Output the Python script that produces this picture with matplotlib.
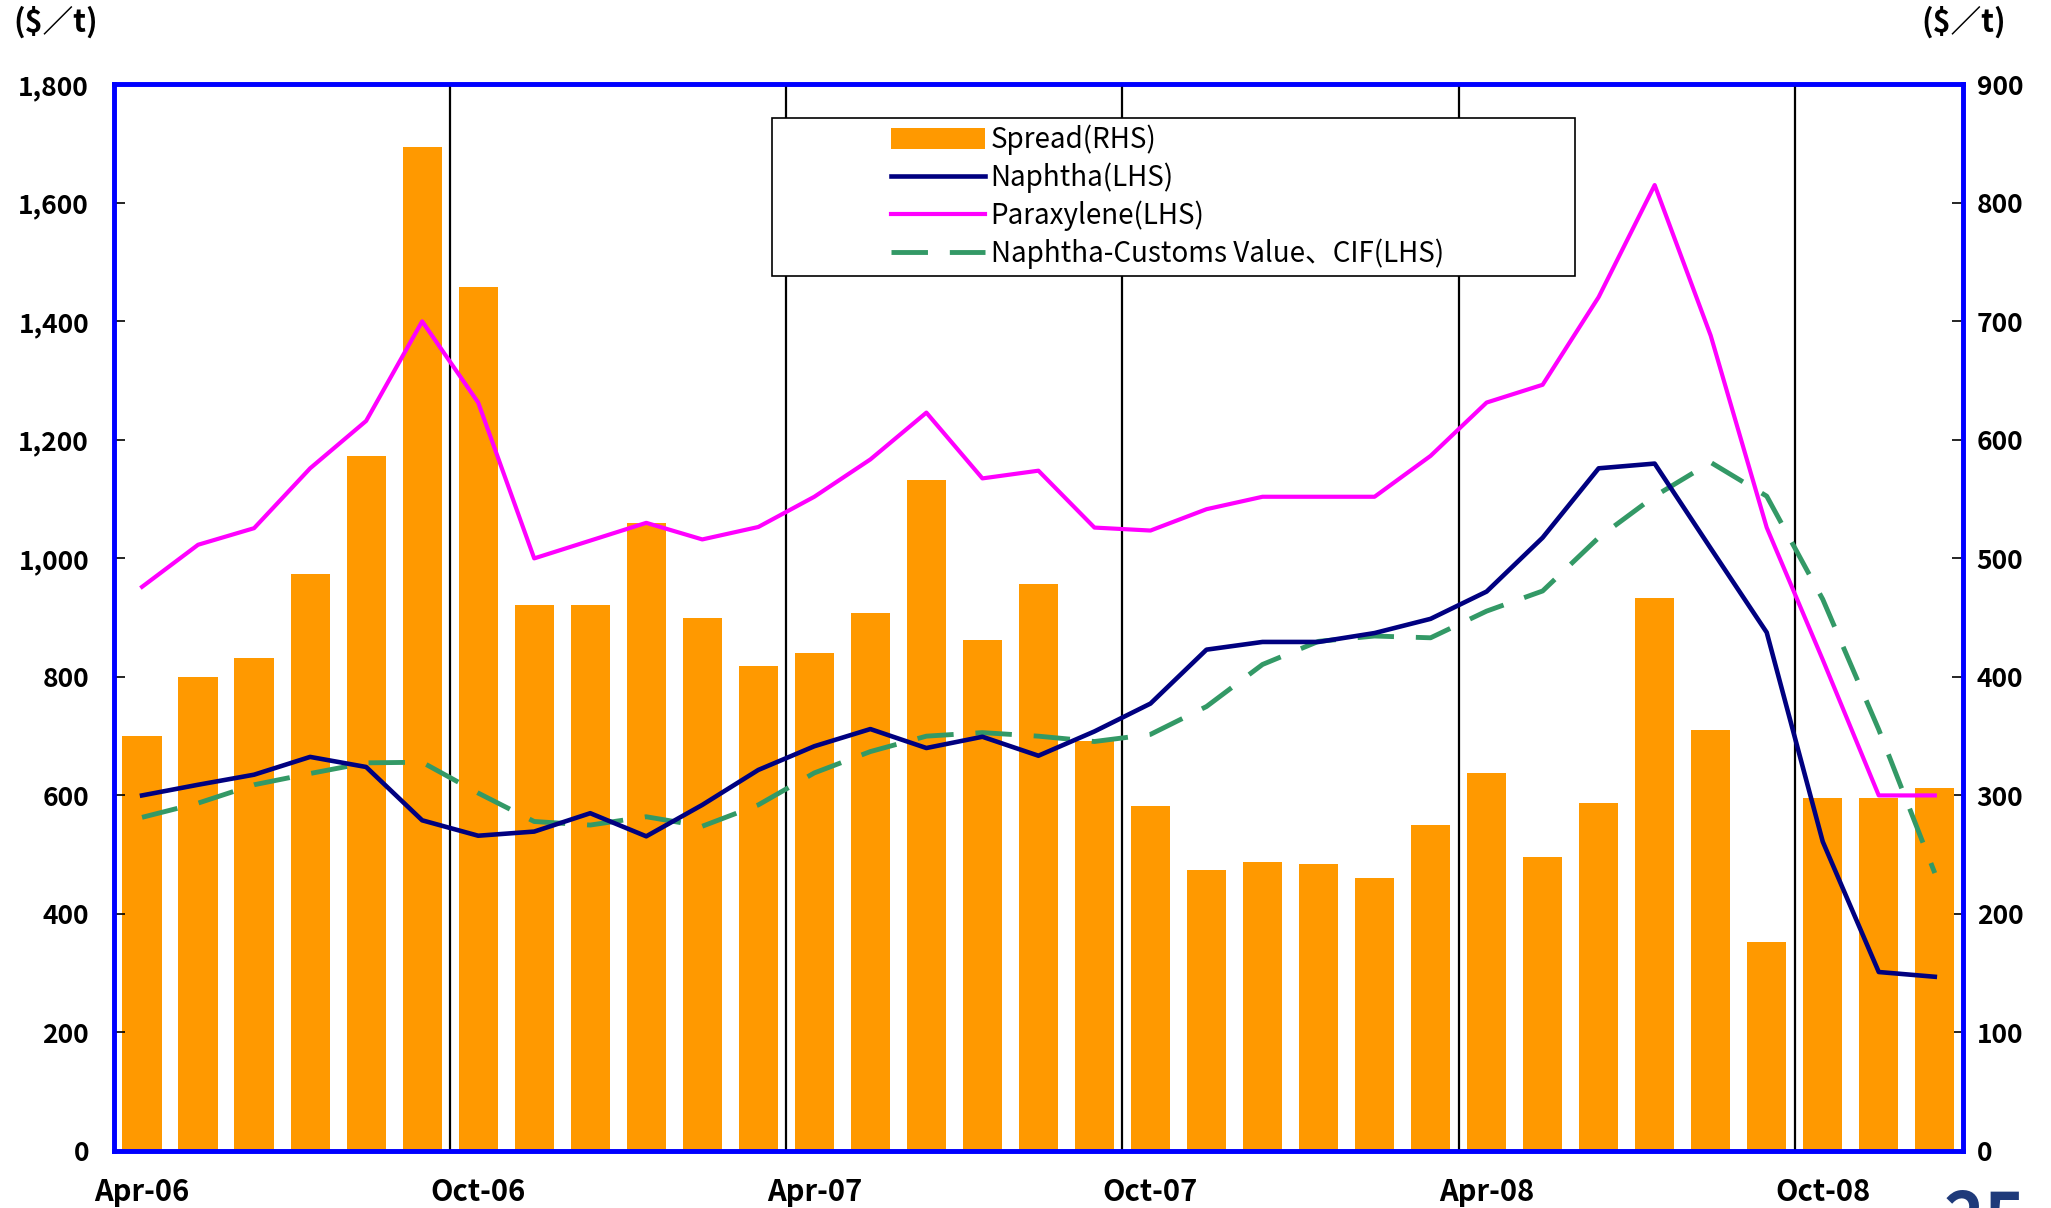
import numpy as np
import matplotlib
matplotlib.use('Agg')
import matplotlib.pyplot as plt
from matplotlib.patches import Rectangle, Patch
from matplotlib.lines import Line2D
from matplotlib.ticker import FuncFormatter

plt.rcParams['font.family'] = ['Noto Sans CJK JP', 'DejaVu Sans']

# monthly data, Apr-06 .. Dec-08
spread = [350, 400, 416, 487, 586, 847, 729, 461, 461, 530, 450, 409, 420, 454, 566,
          431, 478, 346, 291, 237, 244, 242, 230, 275, 319, 248, 294, 467, 355, 176,
          298, 298, 306]
naphtha = [600, 618, 635, 665, 648, 558, 532, 539, 570, 531, 584, 643, 683, 712, 680,
           699, 667, 708, 755, 846, 859, 859, 874, 898, 944, 1035, 1152, 1160, 1017, 875,
           522, 302, 294]
paraxylene = [952, 1023, 1051, 1152, 1232, 1400, 1263, 1000, 1030, 1060, 1032, 1053, 1104,
              1167, 1246, 1135, 1148, 1052, 1047, 1083, 1104, 1104, 1104, 1173, 1263, 1293,
              1441, 1630, 1376, 1052, 829, 600, 600]
customs = [563, 587, 618, 637, 655, 656, 604, 556, 550, 564, 548, 584, 638, 674, 700,
           706, 700, 691, 703, 750, 821, 860, 869, 866, 911, 945, 1035, 1105, 1162, 1105,
           931, 711, 469]
tick_labels = ['Apr-06', 'Oct-06', 'Apr-07', 'Oct-07', 'Apr-08', 'Oct-08']
series_names = ['Spread(RHS)', 'Naphtha(LHS)', 'Paraxylene(LHS)',
                'Naphtha-Customs Value、CIF(LHS)']

x = np.arange(len(spread))

fig = plt.figure(figsize=(20.51, 12.08), dpi=100)
ax = fig.add_axes([0.0556, 0.0472, 0.9014, 0.8830])
ax2 = ax.twinx()
ax.set_zorder(ax2.get_zorder() + 1)
ax.patch.set_visible(False)

# bars on right axis
ax2.bar(x, spread, width=0.7, color='#FF9900', zorder=2)
ax2.set_ylim(0, 900)
ax2.set_yticks(range(0, 901, 100))

# lines on left axis
ax.plot(x, naphtha, color='#000080', lw=3.3, zorder=4)
ax.plot(x, paraxylene, color='#FF00FF', lw=3.0, zorder=4)
ax.plot(x, customs, color='#339966', lw=3.5, dashes=(7.5, 4.5), zorder=3)
ax.set_ylim(0, 1800)
ax.set_yticks(range(0, 1801, 200))
ax.yaxis.set_major_formatter(FuncFormatter(lambda v, p: f'{int(v):,}'))
ax.set_xlim(-0.5, len(spread) - 0.5)

# half-year separators
for b in np.arange(5.5, len(spread) - 1, 6):
    ax.axvline(b, color='black', lw=1.6, zorder=1)

ax.set_xticks(range(0, len(spread), 6))
ax.set_xticklabels(tick_labels)

for a in (ax, ax2):
    for s in a.spines.values():
        s.set_color('#0000FF')
        s.set_linewidth(3.3)

ax.tick_params(axis='x', length=0, pad=19, labelsize=21)
ax.tick_params(axis='y', direction='in', length=8, width=1.2, pad=18, labelsize=19)
ax2.tick_params(axis='y', direction='in', length=8, width=1.2, pad=10, labelsize=19)
for lab in ax.get_xticklabels() + ax.get_yticklabels() + ax2.get_yticklabels():
    lab.set_fontweight('bold')

# legend with a wide frame
ax.add_patch(Rectangle((0.356, 0.820), 0.434, 0.148, transform=ax.transAxes,
                       facecolor='white', edgecolor='black', lw=1.2, zorder=5))
handles = [Patch(facecolor='#FF9900'),
           Line2D([], [], color='#000080', lw=3.3),
           Line2D([], [], color='#FF00FF', lw=3.0),
           Line2D([], [], color='#339966', lw=3.5, dashes=(7.5, 4.5))]
leg = ax.legend(handles, series_names, loc='upper left', bbox_to_anchor=(0.408, 0.983),
                frameon=False, fontsize=20, handlelength=3.4, handleheight=0.75,
                handletextpad=0.2, labelspacing=0.27, borderpad=0.3)
leg.set_zorder(6)

fig.text(13 / 2051, 1 - 22 / 1208, '($／t)', fontsize=22, fontweight='bold', va='center')
fig.text(1921 / 2051, 1 - 22 / 1208, '($／t)', fontsize=22, fontweight='bold', va='center')
fig.text(1944 / 2051, 1 - 1188 / 1208, '25', fontsize=50, fontweight='bold',
         color='#1F3A7A', va='top')

fig.savefig('out.png', dpi=100)
